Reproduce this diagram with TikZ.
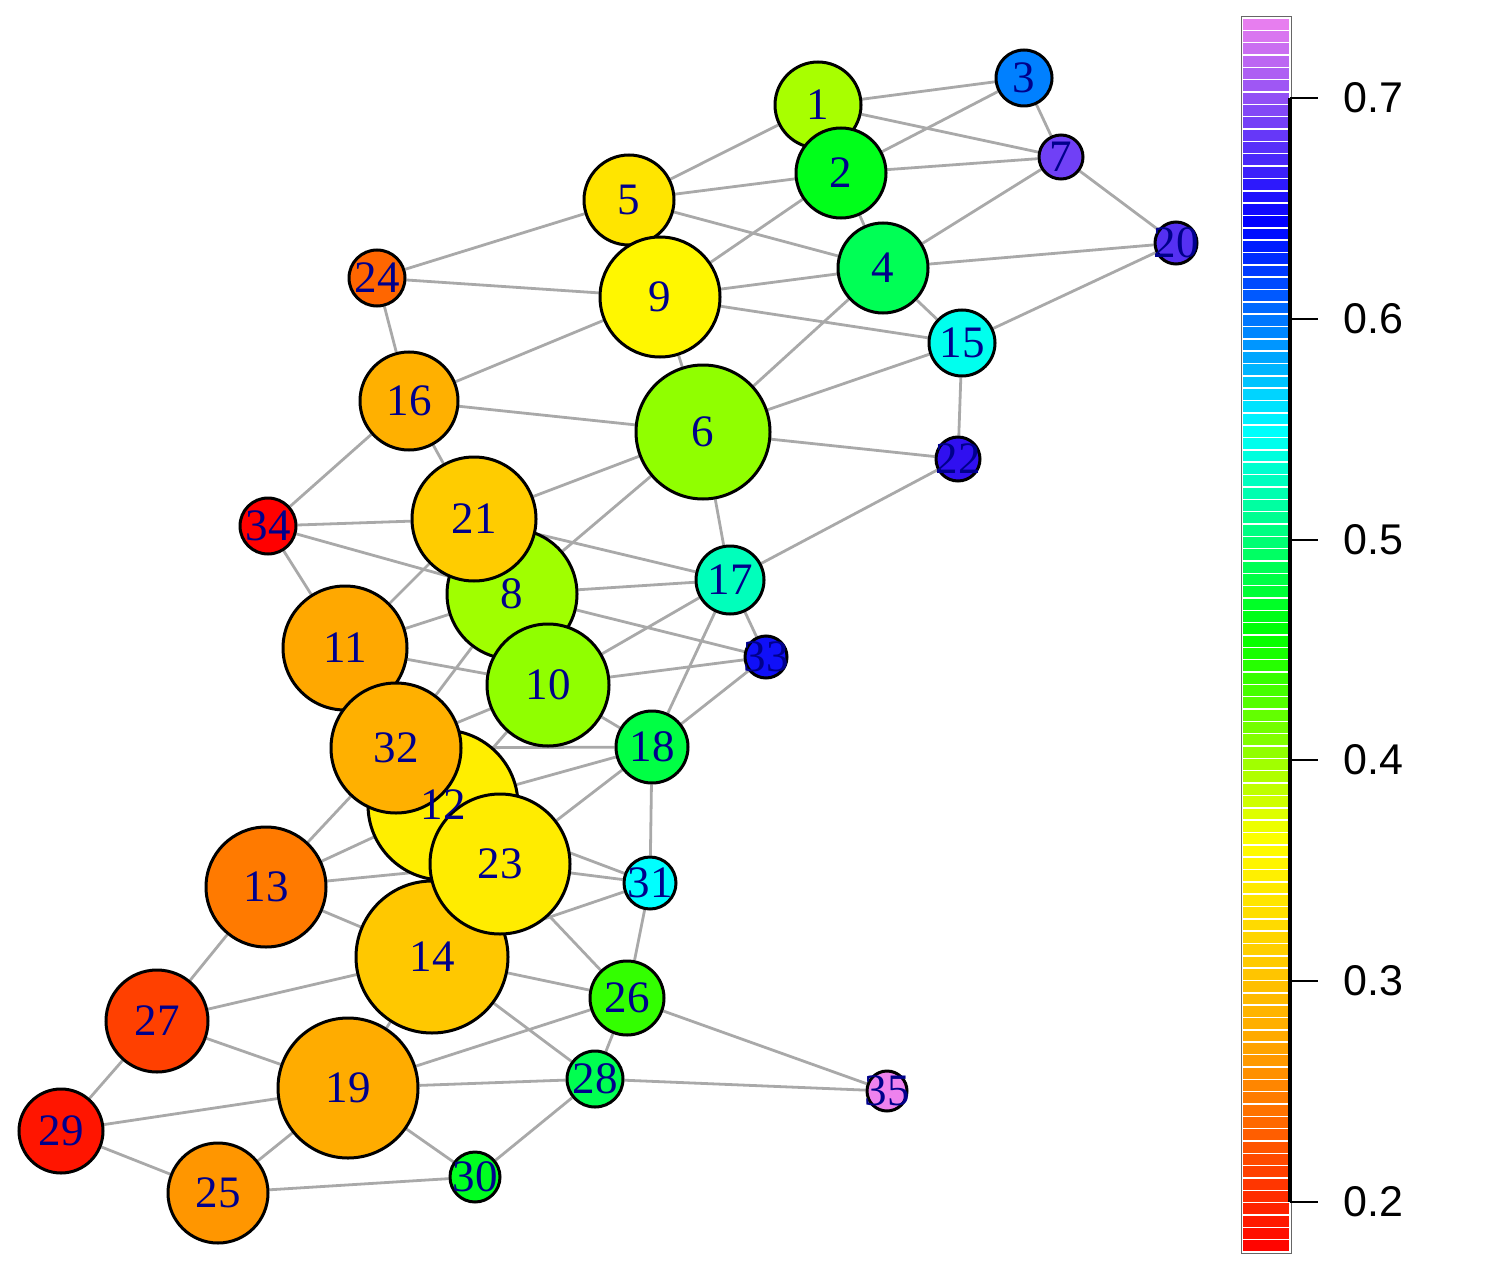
\documentclass[tikz,border=0pt]{standalone}
\usepackage{fontspec}
\newfontfamily\lblfont{Liberation Serif}
\newfontfamily\axfont{Liberation Sans}
\usetikzlibrary{backgrounds}

\definecolor{edgegray}{HTML}{A9A9A9}
\definecolor{lblblue}{HTML}{00008B}
% colour ramp of the bar
\definecolor{ramp0}{HTML}{FF0000}
\definecolor{ramp1}{HTML}{FFA500}
\definecolor{ramp2}{HTML}{FFFF00}
\definecolor{ramp3}{HTML}{00FF00}
\definecolor{ramp4}{HTML}{00FFFF}
\definecolor{ramp5}{HTML}{0000FF}
\definecolor{ramp6}{HTML}{EE82EE}
% vertex fills
\definecolor{c1}{HTML}{A8FF00}
\definecolor{c2}{HTML}{00FF1A}
\definecolor{c3}{HTML}{0080FF}
\definecolor{c4}{HTML}{00FF55}
\definecolor{c5}{HTML}{FFE500}
\definecolor{c6}{HTML}{90FF00}
\definecolor{c7}{HTML}{7040F6}
\definecolor{c8}{HTML}{A0FF00}
\definecolor{c9}{HTML}{FFF700}
\definecolor{c10}{HTML}{90FF00}
\definecolor{c11}{HTML}{FFA800}
\definecolor{c12}{HTML}{FFEE00}
\definecolor{c13}{HTML}{FF7A00}
\definecolor{c14}{HTML}{FFC800}
\definecolor{c15}{HTML}{00FFEE}
\definecolor{c16}{HTML}{FFB000}
\definecolor{c17}{HTML}{00FFBB}
\definecolor{c18}{HTML}{00FF44}
\definecolor{c19}{HTML}{FFAC00}
\definecolor{c20}{HTML}{5530F2}
\definecolor{c21}{HTML}{FFCC00}
\definecolor{c22}{HTML}{3010F0}
\definecolor{c23}{HTML}{FFEC00}
\definecolor{c24}{HTML}{FF6600}
\definecolor{c25}{HTML}{FF9600}
\definecolor{c26}{HTML}{33FF00}
\definecolor{c27}{HTML}{FF4000}
\definecolor{c28}{HTML}{00FF50}
\definecolor{c29}{HTML}{FF1500}
\definecolor{c30}{HTML}{00FF20}
\definecolor{c31}{HTML}{00FFFF}
\definecolor{c32}{HTML}{FFB000}
\definecolor{c33}{HTML}{1010F8}
\definecolor{c34}{HTML}{FF0000}
\definecolor{c35}{HTML}{EE82EE}

\tikzset{
  vertex/.style={circle, draw=black, line width=3pt, inner sep=0pt},
  vlabel/.style={inner sep=0pt, text=lblblue, font=\lblfont\fontsize{45}{45}\selectfont},
  edge/.style={draw=edgegray, line width=2.8pt},
  axlabel/.style={anchor=west, inner sep=0pt, font=\axfont\fontsize{43}{43}\selectfont}
}

\begin{document}
\begin{tikzpicture}[x=1pt,y=-1pt]
\useasboundingbox (0,0) rectangle (1493,1273);

%Vertices (drawn in order 1..35)
\node[vertex, minimum size=86, fill=c1] (v1) at (818,105) {};
\node[vertex, minimum size=90, fill=c2] (v2) at (841,173) {};
\node[vertex, minimum size=56, fill=c3] (v3) at (1024,78) {};
\node[vertex, minimum size=90, fill=c4] (v4) at (883,268) {};
\node[vertex, minimum size=90, fill=c5] (v5) at (629,200) {};
\node[vertex, minimum size=134, fill=c6] (v6) at (703,432) {};
\node[vertex, minimum size=44, fill=c7] (v7) at (1061,157) {};
\node[vertex, minimum size=130, fill=c8] (v8) at (512,594) {};
\node[vertex, minimum size=120, fill=c9] (v9) at (660,297) {};
\node[vertex, minimum size=122, fill=c10] (v10) at (548,685) {};
\node[vertex, minimum size=124, fill=c11] (v11) at (345,648) {};
\node[vertex, minimum size=150, fill=c12] (v12) at (443,805) {};
\node[vertex, minimum size=120, fill=c13] (v13) at (266,887) {};
\node[vertex, minimum size=152, fill=c14] (v14) at (432,957) {};
\node[vertex, minimum size=66, fill=c15] (v15) at (962,343) {};
\node[vertex, minimum size=98, fill=c16] (v16) at (409,401) {};
\node[vertex, minimum size=68, fill=c17] (v17) at (730,580) {};
\node[vertex, minimum size=72, fill=c18] (v18) at (652,747) {};
\node[vertex, minimum size=140, fill=c19] (v19) at (348,1088) {};
\node[vertex, minimum size=42, fill=c20] (v20) at (1176,243) {};
\node[vertex, minimum size=124, fill=c21] (v21) at (474,519) {};
\node[vertex, minimum size=44, fill=c22] (v22) at (958,459) {};
\node[vertex, minimum size=140, fill=c23] (v23) at (500,864) {};
\node[vertex, minimum size=56, fill=c24] (v24) at (377,278) {};
\node[vertex, minimum size=100, fill=c25] (v25) at (218,1193) {};
\node[vertex, minimum size=74, fill=c26] (v26) at (627,998) {};
\node[vertex, minimum size=102, fill=c27] (v27) at (157,1021) {};
\node[vertex, minimum size=56, fill=c28] (v28) at (595,1079) {};
\node[vertex, minimum size=84, fill=c29] (v29) at (61,1131) {};
\node[vertex, minimum size=50, fill=c30] (v30) at (475,1177) {};
\node[vertex, minimum size=52, fill=c31] (v31) at (650,883) {};
\node[vertex, minimum size=130, fill=c32] (v32) at (396,748) {};
\node[vertex, minimum size=42, fill=c33] (v33) at (766,657) {};
\node[vertex, minimum size=56, fill=c34] (v34) at (268,526) {};
\node[vertex, minimum size=40, fill=c35] (v35) at (887,1091) {};

%Edges, behind the vertices
\begin{scope}[on background layer]
\foreach \a/\b in {1/3, 1/5, 1/7, 2/3, 2/4, 2/5, 2/7, 2/9, 3/7,
  4/5, 4/6, 4/7, 4/9, 4/15, 4/20, 5/24,
  6/8, 6/9, 6/15, 6/16, 6/17, 6/21, 6/22, 7/20,
  8/11, 8/17, 8/32, 8/33, 8/34, 9/15, 9/16, 9/24,
  10/11, 10/12, 10/17, 10/18, 10/32, 10/33, 11/21, 11/34,
  12/13, 12/18, 12/31, 13/14, 13/23, 13/27, 13/32,
  14/19, 14/26, 14/27, 14/28, 14/31, 15/20, 15/22,
  16/21, 16/24, 16/34, 17/18, 17/21, 17/22, 17/33,
  18/23, 18/31, 18/32, 18/33,
  19/25, 19/26, 19/27, 19/28, 19/29, 19/30, 21/34,
  23/26, 23/31, 25/29, 25/30, 26/28, 26/31, 26/35,
  27/29, 28/30, 28/35}
  \draw[edge] (v\a) -- (v\b);
\end{scope}

% Text Nodes (labels over all vertices)
\foreach \i in {1,...,35}
  \node[vlabel] (t\i) at (v\i) {\i};

%Colour bar
\foreach \i in {0,...,99}{
  \pgfmathsetmacro{\t}{(\i+0.5)*6/100}
  \pgfmathtruncatemacro{\k}{floor(\t)}
  \pgfmathtruncatemacro{\kk}{\k+1}
  \pgfmathtruncatemacro{\p}{round(100*(1-(\t-\k)))}
  \colorlet{stripe}{ramp\k!\p!ramp\kk}
  \pgfmathsetmacro{\ya}{1252-\i*12.34}
  \draw[fill=stripe, draw=white, line width=1.5pt] (1242,\ya) rectangle (1290,\ya-12.34);
}
\draw[black!60, line width=1pt] (1241,17) rectangle (1291,1253);
\draw[line width=3.5pt] (1290,98) -- (1290,1202);
\foreach \v/\y in {0.2/1202, 0.3/981, 0.4/760, 0.5/540, 0.6/319, 0.7/98}{
  \draw[line width=2.8pt] (1290,\y) -- (1318,\y);
  \node[axlabel] (a\v) at (1343,\y) {\v};
}
\end{tikzpicture}
\end{document}
